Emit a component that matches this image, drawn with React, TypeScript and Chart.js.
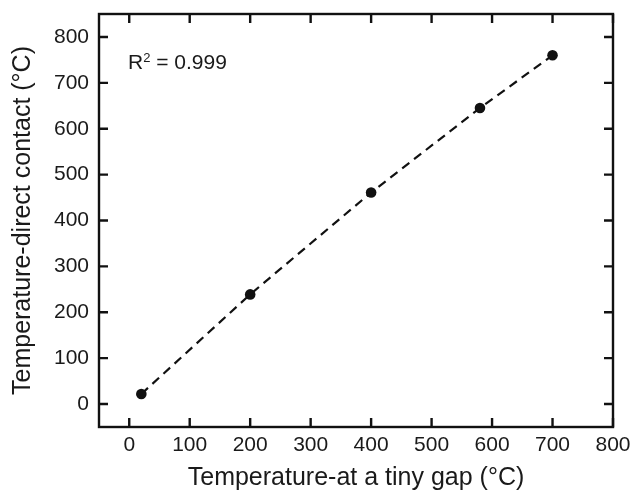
import React, { useEffect, useRef } from "react";
import { Chart, registerables } from "chart.js";

Chart.register(...registerables);

// ---- data ----
const gapTemps = [20, 200, 400, 580, 700]; // Temperature-at a tiny gap (°C)
const contactTemps = [22, 239, 461, 645, 760]; // Temperature-direct contact (°C)
const xTicks = [0, 100, 200, 300, 400, 500, 600, 700, 800];
const yTicks = [0, 100, 200, 300, 400, 500, 600, 700, 800];
const xRange = [-50, 800];
const yRange = [-50, 850];
const r2Label = "0.999";
const xTitle = "Temperature-at a tiny gap (\u00B0C)";
const yTitle = "Temperature-direct contact (\u00B0C)";

const FONT = '"Liberation Sans", Arial, Helvetica, sans-serif';
const TEXT = "#1a1a1a";
const TICK_LEN = 9;

const zeroPadding = (s: any) => {
  s.paddingTop = 0;
  s.paddingBottom = 0;
  s.paddingLeft = 0;
  s.paddingRight = 0;
};

const framePlugin = {
  id: "frame",
  afterDraw(chart: any) {
    const { ctx, chartArea: a, scales } = chart;
    const x = scales.x;
    const y = scales.y;
    ctx.save();
    ctx.strokeStyle = "#111";
    ctx.lineWidth = 2.4;
    ctx.lineCap = "butt";
    ctx.beginPath();
    for (const v of xTicks) {
      const px = x.getPixelForValue(v);
      ctx.moveTo(px, a.bottom);
      ctx.lineTo(px, a.bottom - TICK_LEN);
      ctx.moveTo(px, a.top);
      ctx.lineTo(px, a.top + TICK_LEN);
    }
    for (const v of yTicks) {
      const py = y.getPixelForValue(v);
      ctx.moveTo(a.left, py);
      ctx.lineTo(a.left + TICK_LEN, py);
      ctx.moveTo(a.right, py);
      ctx.lineTo(a.right - TICK_LEN, py);
    }
    ctx.stroke();
    ctx.strokeRect(a.left, a.top, a.right - a.left, a.bottom - a.top);

    // R^2 annotation
    ctx.fillStyle = TEXT;
    ctx.textBaseline = "alphabetic";
    ctx.textAlign = "left";
    let tx = a.left + 29;
    const ty = a.top + 55;
    ctx.font = `21px ${FONT}`;
    ctx.fillText("R", tx, ty);
    tx += ctx.measureText("R").width;
    ctx.font = `13px ${FONT}`;
    ctx.fillText("2", tx, ty - 7);
    tx += ctx.measureText("2").width;
    ctx.font = `21px ${FONT}`;
    ctx.fillText(" = " + r2Label, tx, ty);
    ctx.restore();
  },
};

export default function App() {
  const ref = useRef<HTMLCanvasElement | null>(null);

  useEffect(() => {
    if (!ref.current) return;
    const data = gapTemps.map((g, i) => ({ x: g, y: contactTemps[i] }));
    const chart = new Chart(ref.current, {
      type: "scatter",
      data: {
        datasets: [
          {
            data,
            showLine: true,
            borderColor: "#111",
            borderWidth: 2.2,
            borderDash: [9, 6],
            backgroundColor: "#111",
            pointBackgroundColor: "#111",
            pointBorderColor: "#111",
            pointRadius: 5.3,
            pointBorderWidth: 0,
            tension: 0,
          },
        ],
      },
      options: {
        animation: false,
        responsive: false,
        devicePixelRatio: 1,
        layout: { padding: { top: 14, right: 19, left: 0, bottom: 0 } },
        plugins: {
          legend: { display: false },
          tooltip: { enabled: false },
        },
        scales: {
          x: {
            type: "linear",
            min: xRange[0],
            max: xRange[1],
            grid: { display: false, drawTicks: false },
            border: { display: false },
            afterBuildTicks: (s: any) => {
              s.ticks = xTicks.map((v) => ({ value: v }));
            },
            afterFit: (s: any) => {
              s.height = 65;
              zeroPadding(s);
            },
            ticks: {
              padding: 6,
              color: TEXT,
              font: { family: FONT, size: 21 },
              maxRotation: 0,
              callback: (v: any) => String(v),
            },
            title: {
              display: true,
              text: xTitle,
              color: TEXT,
              font: { family: FONT, size: 25, lineHeight: 1 },
              padding: { top: 0, bottom: 1 },
            },
          },
          y: {
            type: "linear",
            min: yRange[0],
            max: yRange[1],
            grid: { display: false, drawTicks: false },
            border: { display: false },
            afterBuildTicks: (s: any) => {
              s.ticks = yTicks.map((v) => ({ value: v }));
            },
            afterFit: (s: any) => {
              s.width = 99;
              zeroPadding(s);
            },
            ticks: {
              padding: 10,
              color: TEXT,
              font: { family: FONT, size: 21 },
              callback: (v: any) => String(v),
            },
            title: {
              display: true,
              text: yTitle,
              color: TEXT,
              font: { family: FONT, size: 25, lineHeight: 1 },
              padding: { top: 11, bottom: 0 },
            },
          },
        },
      },
      plugins: [framePlugin],
    });
    return () => chart.destroy();
  }, []);

  return (
    <div style={{ position: "absolute", left: 0, top: 0, width: 632, height: 492, background: "#fff" }}>
      <canvas ref={ref} width={632} height={492} style={{ width: 632, height: 492, display: "block" }} />
    </div>
  );
}
